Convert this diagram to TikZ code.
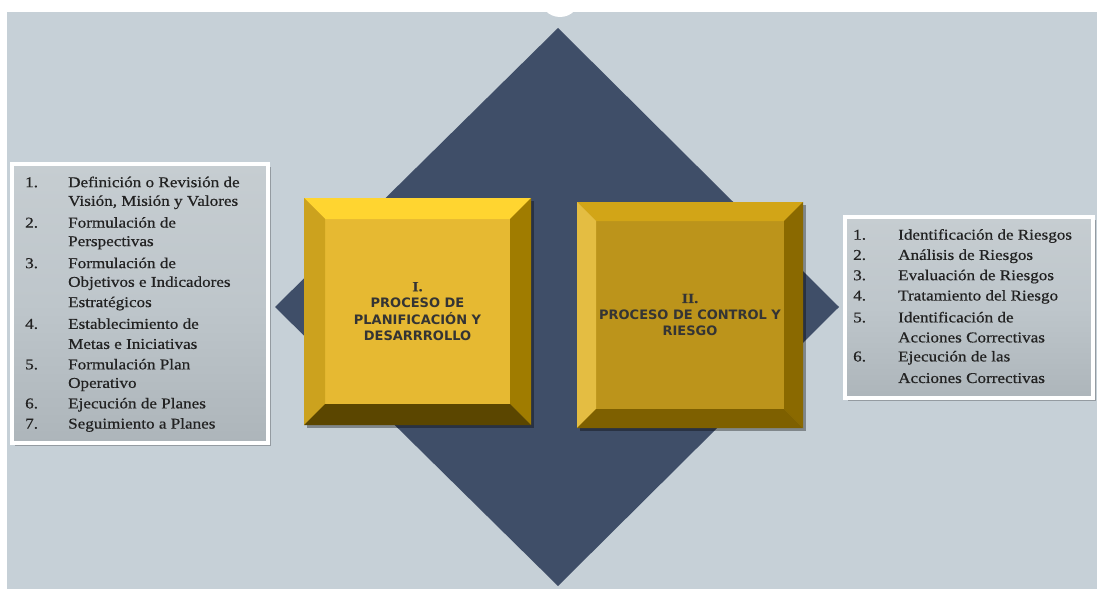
\documentclass[tikz,border=0pt]{standalone}
\usepackage{fontspec}
\setmainfont{Liberation Serif}[FakeStretch=1.14,FakeBold=0.6]
\newfontfamily\procfont{DejaVu Sans}
\usetikzlibrary{calc}
\usetikzlibrary{shadows}
\definecolor{bgGray}{HTML}{C6D0D7}
\definecolor{diamondBlue}{HTML}{3F4E68}
\definecolor{listText}{HTML}{222222}
\definecolor{procText}{HTML}{343434}
\definecolor{listTop}{HTML}{C6CDD1}
\definecolor{listMiddle}{HTML}{BEC6CB}
\definecolor{listBottom}{HTML}{ADB5BA}
% gold tones of the two process boxes
\definecolor{planFace}{HTML}{E6B932}
\definecolor{planTop}{HTML}{FFD530}
\definecolor{planLeft}{HTML}{CCA21E}
\definecolor{planRight}{HTML}{A07C00}
\definecolor{planBottom}{HTML}{5B4600}
\definecolor{riskFace}{HTML}{BC941B}
\definecolor{riskTop}{HTML}{D2A517}
\definecolor{riskLeft}{HTML}{E4BD42}
\definecolor{riskRight}{HTML}{8A6900}
\definecolor{riskBottom}{HTML}{7E6000}
% bevelled frame round a square node
% #1 node, #2 bevel width, #3 top, #4 left, #5 right, #6 bottom
\newcommand*\bevelframe[6]{%
    \fill[#3] (#1.north west) -- (#1.north east)
        -- ($(#1.north east)+(-#2,#2)$) -- ($(#1.north west)+(#2,#2)$) -- cycle;% top
    \fill[#4] (#1.north west) -- ($(#1.north west)+(#2,#2)$)
        -- ($(#1.south west)+(#2,-#2)$) -- (#1.south west) -- cycle;% left
    \fill[#5] (#1.north east) -- (#1.south east)
        -- ($(#1.south east)+(-#2,-#2)$) -- ($(#1.north east)+(-#2,#2)$) -- cycle;% right
    \fill[#6] (#1.south west) -- (#1.south east)
        -- ($(#1.south east)+(-#2,-#2)$) -- ($(#1.south west)+(#2,-#2)$) -- cycle;% bottom
}
\begin{document}
\begin{tikzpicture}
    [%
        x=1pt,y=-1pt,%
        process box/.style={%
            rectangle,%
            inner sep=0pt,%
            outer sep=0pt,%
            align=center,%
            text=procText,%
            font=\procfont\bfseries\fontsize{13}{16.5}\selectfont,%
            drop shadow={shadow xshift=3pt,shadow yshift=-3pt,opacity=.35,fill=black}%
        },%
        list box/.style={%
            rectangle,%
            draw=white,%
            line width=4pt,%
            inner sep=0pt,%
            top color=listTop,%
            bottom color=listBottom,%
            middle color=listMiddle,%
            drop shadow={shadow xshift=3pt,shadow yshift=-3pt,opacity=.25,fill=black}%
        },%
        list line/.style={%
            anchor=west,%
            inner sep=0pt,%
            text=listText,%
            font=\fontsize{15}{18}\selectfont%
        }%
    ]%
%
    \useasboundingbox (0,0) rectangle (1097,591);
    \fill[white] (0,0) rectangle (1097,591);
    \fill[bgGray] (7,12) rectangle (1097,589);
    \fill[white] (560,-3) circle (20);
    % the diamond behind both processes
    \fill[diamondBlue] (558,28) -- (839,307) -- (558,586) -- (275,307) -- cycle;
%
    % list boxes on both sides
    \node[list box,minimum width=256pt,minimum height=279pt] (plan-list) at (140,303.5) {};
    \node[list box,minimum width=248pt,minimum height=181pt] (risk-list) at (969,307.5) {};
%
    % process boxes
    \node[process box,fill=planFace,minimum size=227pt] (plan) at (417.5,311.5)
        {{\rmfamily\bfseries\fontsize{14}{16.5}\selectfont I.}\\PROCESO DE\\PLANIFICACIÓN Y\\DESARRROLLO};
    \bevelframe{plan}{21}{planTop}{planLeft}{planRight}{planBottom}
    \node[process box,fill=riskFace,minimum size=226pt] (risk) at (690,315)
        {{\rmfamily\bfseries\fontsize{14}{16.5}\selectfont II.}\\PROCESO DE CONTROL Y\\RIESGO};
    \bevelframe{risk}{19}{riskTop}{riskLeft}{riskRight}{riskBottom}
%
    % steps of the planning process
    % \stepno number of the step, \steptext one printed line
    \foreach \stepno/\steptext [count=\i] in {%
        1./Definición o Revisión de,%
        /{Visión, Misión y Valores},%
        2./Formulación de,%
        /Perspectivas,%
        3./Formulación de,%
        /Objetivos e Indicadores,%
        /Estratégicos,%
        4./Establecimiento de,%
        /Metas e Iniciativas,%
        5./Formulación Plan,%
        /Operativo,%
        6./Ejecución de Planes,%
        7./Seguimiento a Planes%
    }{
        \node[list line] (plan-step-\i) at (25,{182+20.25*(\i-1)})
            {\makebox[43pt][l]{\stepno}\steptext};
    } % \foreach \stepno/\steptext
%
    % steps of the risk process
    \foreach \stepno/\steptext [count=\i] in {%
        1./Identificación de Riesgos,%
        2./Análisis de Riesgos,%
        3./Evaluación de Riesgos,%
        4./Tratamiento del Riesgo,%
        5./Identificación de,%
        /Acciones Correctivas,%
        6./Ejecución de las,%
        /Acciones Correctivas%
    }{
        \node[list line] (risk-step-\i) at (853,{236+20.3*(\i-1)})
            {\makebox[45pt][l]{\stepno}\steptext};
    } % \foreach \stepno/\steptext
\end{tikzpicture}
\end{document}
